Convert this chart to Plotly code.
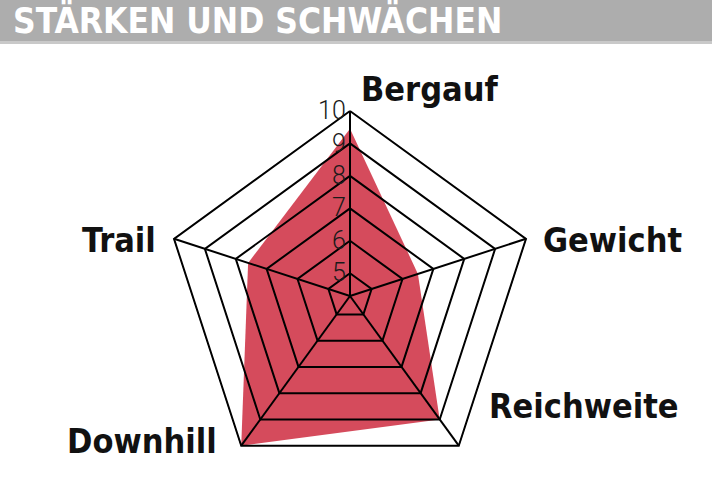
import plotly.graph_objects as go

# ---- data ----
categories = ["Bergauf", "Gewicht", "Reichweite", "Downhill", "Trail"]
scores = [9.45, 6.5, 9.0, 10.0, 7.6]
tick_values = [5, 6, 7, 8, 9, 10]
tick_labels = ["5", "6", "7", "8", "9", "10"]
radial_min = 4.3
radial_max = 10.06
title_text = "STÄRKEN UND SCHWÄCHEN"

RED = "#d54b5c"
LABEL_FONT = "DejaVu Sans Condensed, DejaVu Sans"

fig = go.Figure()

# filled profile
closed_theta = categories + [categories[0]]
fig.add_trace(go.Scatterpolar(
    r=scores + [scores[0]],
    theta=closed_theta,
    mode="lines",
    line=dict(color=RED, width=0),
    fill="toself",
    fillcolor=RED,
    hoverinfo="skip",
    showlegend=False,
))

# pentagon rings drawn on top of the fill
for v in tick_values:
    fig.add_trace(go.Scatterpolar(
        r=[v] * len(closed_theta),
        theta=closed_theta,
        mode="lines",
        line=dict(color="black", width=2),
        hoverinfo="skip",
        showlegend=False,
    ))

# spokes
for c in categories:
    fig.add_trace(go.Scatterpolar(
        r=[radial_min, tick_values[-1]],
        theta=[c, c],
        mode="lines",
        line=dict(color="black", width=2),
        hoverinfo="skip",
        showlegend=False,
    ))

W, H = 712, 483
cx, cy, R = 350, 296, 187
y0 = max(0.0, 1 - (cy + R) / H)
y1 = min(1.0, 1 - (cy - R) / H)
fig.update_layout(
    width=W, height=H,
    margin=dict(l=0, r=0, t=0, b=0),
    paper_bgcolor="white",
    plot_bgcolor="white",
    showlegend=False,
    polar=dict(
        domain=dict(x=[(cx - R) / W, (cx + R) / W], y=[y0, y1]),
        bgcolor="white",
        gridshape="linear",
        radialaxis=dict(
            range=[radial_min, radial_max],
            tickvals=tick_values,
            ticktext=tick_labels,
            angle=90,
            side="counterclockwise",
            showgrid=False,
            showline=False,
            ticks="",
            tickangle=90,
            tickfont=dict(family="Roboto", size=25, color="#1a1a1a", weight=300),
        ),
        angularaxis=dict(
            categoryorder="array",
            categoryarray=categories,
            rotation=90,
            direction="clockwise",
            showgrid=False,
            showline=False,
            showticklabels=False,
            ticks="",
        ),
    ),
)

# header bar
fig.add_shape(type="rect", xref="paper", yref="paper",
              x0=0, x1=1, y0=1 - 44 / H, y1=1,
              fillcolor="#c9c9c9", line=dict(width=0), layer="below")
fig.add_shape(type="rect", xref="paper", yref="paper",
              x0=0, x1=1, y0=1 - 41 / H, y1=1,
              fillcolor="#adadad", line=dict(width=0), layer="below")
fig.add_annotation(text=f"<b>{title_text}</b>", xref="paper", yref="paper",
                   x=11 / W, y=1 - 21 / H, xanchor="left", yanchor="middle",
                   showarrow=False,
                   font=dict(family=LABEL_FONT, size=35, color="white"))

# axis labels
label_pos = {
    "Bergauf": (359, 89, "left"),
    "Gewicht": (541, 240, "left"),
    "Reichweite": (487, 406, "left"),
    "Downhill": (219, 441, "right"),
    "Trail": (158, 240, "right"),
}
for c in categories:
    x, y, anchor = label_pos[c]
    fig.add_annotation(text=f"<b>{c}</b>", xref="paper", yref="paper",
                       x=x / W, y=1 - y / H, xanchor=anchor, yanchor="middle",
                       showarrow=False,
                       font=dict(family=LABEL_FONT, size=34, color="#111"))

fig.write_html("out.html",
               config={"displayModeBar": False},
               post_script="document.body.style.margin='0';document.body.style.overflow='hidden';")
